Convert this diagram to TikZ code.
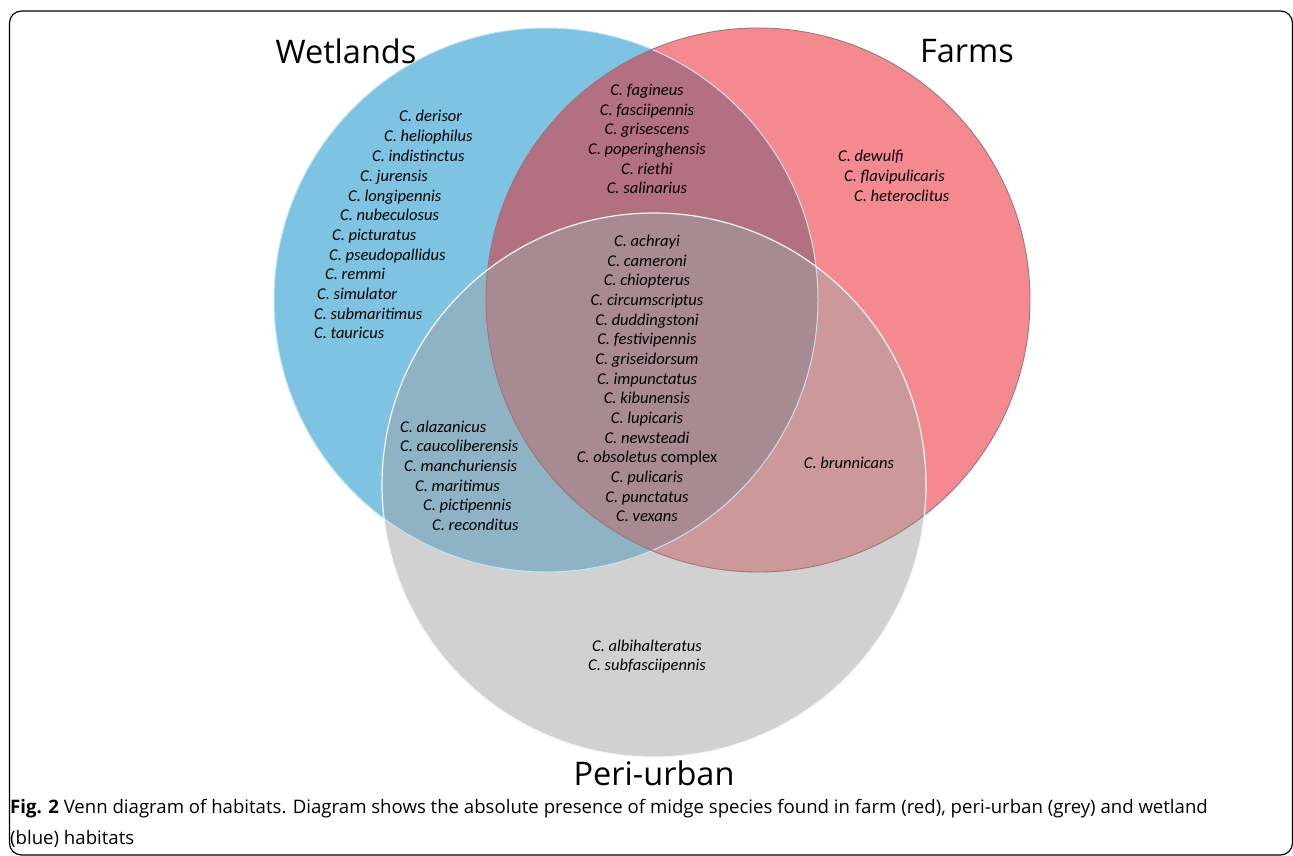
\documentclass[tikz,border=0pt]{standalone}
\usepackage{fontspec}
\setmainfont{Carlito}
\newfontfamily\headfont{Open Sans}
\usetikzlibrary{positioning}
\definecolor{wetblue}{RGB}{126,196,226}
\definecolor{farmred}{RGB}{244,138,144}
\definecolor{perigrey}{RGB}{209,209,209}
\definecolor{wetfarm}{RGB}{179,112,128}
\definecolor{wetperi}{RGB}{142,179,196}
\definecolor{farmperi}{RGB}{205,152,153}
\definecolor{allthree}{RGB}{168,138,146}
\tikzset{
    species/.style={%
        inner sep=0pt,
        text height=8pt, text depth=0pt,
        font=\itshape\fontsize{16.5}{19.65}\selectfont
    },
    speclist/.style={%
        inner sep=0pt, align=center,
        font=\itshape\fontsize{16.5}{19.65}\selectfont
    },
    habitat/.style={%
        inner sep=0pt,
        font=\headfont\fontsize{32.5}{38}\selectfont
    },
    rim/.style={line width=#1},
    rim/.default=1pt
}

\begin{document}
\begin{tikzpicture}[x=1pt, y=-1pt]
    \useasboundingbox (0,0) rectangle (1293,856);
    \draw[rounded corners=12pt, line width=1.2pt] (9.5,11) rectangle (1292.5,855);

    % habitat circles
    \coordinate (wet) at (546,300);
    \coordinate (farm) at (758,300);
    \coordinate (peri) at (654,485);
    \fill[wetblue] (wet) circle[radius=272];
    \fill[farmred] (farm) circle[radius=272];
    \fill[perigrey] (peri) circle[radius=272];
    \begin{scope}
        \clip (farm) circle[radius=272];
        \fill[farmperi] (peri) circle[radius=272];
    \end{scope}
    \begin{scope}
        \clip (wet) circle[radius=272];
        \fill[wetfarm] (farm) circle[radius=272];
        \fill[wetperi] (peri) circle[radius=272];
        \clip (farm) circle[radius=272];
        \fill[allthree] (peri) circle[radius=272];
    \end{scope}
    \draw[rim, white!55!wetblue] (wet) circle[radius=272];
    \draw[rim=0.9pt, farmred!45!black!70] (farm) circle[radius=272];
    \draw[rim=1.2pt, white!80!perigrey] (peri) circle[radius=272];

    % headings
    \node[habitat] (Hwet) at (346,51) {Wetlands};
    \node[habitat] (Hfarm) at (967,51) {Farms};
    \node[habitat] (Hperi) at (654,773) {Peri-urban};

    % wetlands only
    \foreach \x/\y/\s [count=\i] in {399/118/derisor, 384/138/heliophilus,
        372/157/indistinctus, 360/177/jurensis, 348/197/longipennis,
        340/216/nubeculosus, 332/236/picturatus, 329/256/pseudopallidus,
        325/275/remmi, 317/295/simulator, 314/315/submaritimus, 314/334/tauricus}
        \node[species, anchor=west] (W\i) at (\x,\y) {C. \s};

    % farms only
    \foreach \x/\y/\s [count=\i] in {838/157/dewulfi, 844/177/flavipulicaris,
        854/197/heteroclitus}
        \node[species, anchor=west] (F\i) at (\x,\y) {C. \s};

    % wetlands and peri-urban
    \foreach \x/\y/\s [count=\i] in {400/428/alazanicus, 400/447/caucoliberensis,
        404/467/manchuriensis, 415/487/maritimus, 423/506/pictipennis,
        432/526/reconditus}
        \node[species, anchor=west] (WP\i) at (\x,\y) {C. \s};

    % wetlands and farms
    \node[speclist] (WF) at (647,139) {C. fagineus\\C. fasciipennis\\C. grisescens\\
        C. poperinghensis\\C. riethi\\C. salinarius};

    % all three
    \node[speclist] (WFP) at (647,378.5) {C. achrayi\\C. cameroni\\C. chiopterus\\
        C. circumscriptus\\C. duddingstoni\\C. festivipennis\\C. griseidorsum\\
        C. impunctatus\\C. kibunensis\\C. lupicaris\\C. newsteadi\\
        C. obsoletus \textup{complex}\\C. pulicaris\\C. punctatus\\C. vexans};

    % farms and peri-urban
    \node[species] (FP) at (849,464) {C. brunnicans};

    % peri-urban only
    \node[speclist] (P) at (647,656.5) {C. albihalteratus\\C. subfasciipennis};

    % caption
    \node[anchor=north west, inner sep=0pt, align=left,
        font=\headfont\fontsize{18.6}{31}\selectfont] (cap) at (10,799)
        {\textbf{Fig. 2} Venn diagram of habitats. Diagram shows the absolute presence of midge species found in farm (red), peri-urban (grey) and wetland\\
        (blue) habitats};
\end{tikzpicture}
\end{document}
